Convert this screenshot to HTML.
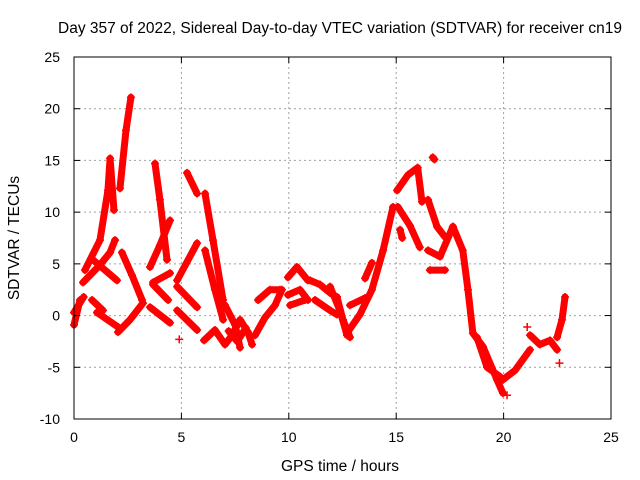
<!DOCTYPE html>
<html><head><meta charset="utf-8"><style>
body{margin:0;background:#fff;}
svg{display:block;font-family:"Liberation Sans",sans-serif;}
</style></head><body>
<svg id="chart" width="640" height="480" viewBox="0 0 640 480" xmlns="http://www.w3.org/2000/svg">
<rect width="640" height="480" fill="#fff"/>
<text x="340" y="33" font-size="15.5" text-anchor="middle">Day 357 of 2022, Sidereal Day-to-day VTEC variation (SDTVAR) for receiver cn19</text>
<g id="grid"></g>
<g id="series"></g>
<g id="axes"></g>
<text x="340" y="471" font-size="15.5" text-anchor="middle">GPS time / hours</text>
<text transform="translate(19,238) rotate(-90)" font-size="15.5" text-anchor="middle">SDTVAR / TECUs</text>
</svg>
<script>
const xTicks=[0,5,10,15,20,25];
const yTicks=[-10,-5,0,5,10,15,20,25];
const seriesSegments=[
[[0,-0.9],[0.28,1.5]],
[[0,0.3],[0.45,1.8]],
[[0.42,3.2],[1.21,4.9],[1.68,6.1],[1.91,7.3]],
[[0.51,4.4],[1.21,7.3],[1.58,12.1],[1.68,15.2],[1.86,10.2]],
[[2.14,12.3],[2.42,17.9],[2.65,21.1]],
[[0.88,5.4],[2.0,3.4]],
[[2.23,6.1],[2.7,3.9],[3.17,1.5]],
[[0.84,1.5],[1.35,0.5]],
[[1.07,0.3],[2.05,-1.1]],
[[2.05,-1.6],[2.61,-0.4],[3.21,1.2]],
[[3.77,14.7],[4.0,11.2],[4.33,5.4]],
[[3.54,4.7],[4.0,6.8],[4.47,9.2]],
[[3.54,0.8],[4.47,-0.7]],
[[3.68,3.2],[4.47,4.1]],
[[3.68,3.0],[4.38,1.5]],
[[5.26,13.8],[5.73,11.8]],
[[4.8,3.4],[5.73,7.0]],
[[4.8,2.8],[5.73,0.8]],
[[4.8,0.5],[5.73,-1.4]],
[[4.9,-2.3]],
[[6.1,11.8],[6.47,7.3],[6.94,1.5]],
[[6.1,6.3],[6.56,2.5],[6.94,-0.4]],
[[6.05,-2.4],[6.56,-1.4],[7.03,-2.8],[7.36,-1.9],[7.73,-0.4],[8.1,-1.6],[8.29,-2.8]],
[[7.03,1.0],[7.5,-0.9],[7.73,-3.1]],
[[7.2,-1.5],[7.6,-2.5],[8.0,-1.2]],
[[8.43,-1.9],[8.89,-0.2],[9.36,1.0],[9.68,2.5]],
[[8.57,1.5],[9.12,2.5],[9.59,2.5]],
[[9.96,3.7],[10.38,4.7],[10.89,3.4]],
[[9.96,2.0],[10.52,2.5],[10.89,1.5]],
[[10.06,1.0],[10.75,1.5]],
[[10.99,3.4],[11.45,3.0],[11.92,2.2],[12.24,1.8]],
[[11.22,1.5],[11.92,0.5],[12.24,0.1]],
[[12.24,1.8],[12.52,-0.4],[12.85,-2.1]],
[[11.92,2.8],[12.38,0.5],[12.71,-1.9]],
[[12.71,-1.7],[13.31,0.1],[13.87,2.5],[14.39,6.3],[14.85,10.5]],
[[12.85,1.0],[13.55,1.7]],
[[13.55,3.6],[13.87,5.1]],
[[15.04,12.1],[15.55,13.6],[16.0,14.3],[16.2,11.0]],
[[16.7,15.3],[16.78,15.1]],
[[15.08,10.5],[15.64,8.7],[16.1,6.6]],
[[15.18,8.3],[15.28,7.5]],
[[16.48,11.2],[16.9,8.6],[17.27,7.6]],
[[16.48,6.3],[17.04,5.7],[17.64,8.6]],
[[16.57,4.4],[17.27,4.4]],
[[17.64,8.6],[18.1,6.3],[18.34,2.5],[18.57,-1.7],[19.04,-3.0],[19.69,-6.2],[19.97,-7.5]],
[[18.76,-2.1],[19.23,-5.0],[19.83,-5.9]],
[[19.97,-6.2],[20.53,-5.3],[21.23,-3.3]],
[[20.16,-7.7]],
[[21.1,-1.1]],
[[21.23,-1.9],[21.69,-2.8],[22.16,-2.4],[22.49,-3.3]],
[[22.49,-2.1],[22.72,-0.4],[22.86,1.8]],
[[22.6,-4.6]]
];
const NS="http://www.w3.org/2000/svg";
const L=74,R=611,T=57,B=419;
function xs(t){return L+(t-0)/25*(R-L);}
function ys(v){return B-(v+10)/35*(B-T);}
function mk(tag,attrs,parent){const e=document.createElementNS(NS,tag);for(const k in attrs)e.setAttribute(k,attrs[k]);parent.appendChild(e);return e;}
const grid=document.getElementById('grid'),axes=document.getElementById('axes'),ser=document.getElementById('series');
xTicks.forEach(t=>{const x=xs(t);
 if(t>0&&t<25){const g=mk('line',{x1:x,x2:x,y1:T,y2:B,stroke:'#a0a0a0','stroke-dasharray':'2,3'},grid);
 
 }
 mk('line',{x1:x,x2:x,y1:B,y2:B-6,stroke:'#000'},axes);mk('line',{x1:x,x2:x,y1:T,y2:T+6,stroke:'#000'},axes);
 const tx=mk('text',{x:x,y:B+23,'font-size':14,'text-anchor':'middle'},axes);tx.textContent=t;
 
 
});
yTicks.forEach(v=>{const y=ys(v);
 if(v>-10&&v<25){const g=mk('line',{x1:L,x2:R,y1:y,y2:y,stroke:'#a0a0a0','stroke-dasharray':'2,3'},grid);
 
 }
 mk('line',{x1:L,x2:L+6,y1:y,y2:y,stroke:'#000'},axes);mk('line',{x1:R,x2:R-6,y1:y,y2:y,stroke:'#000'},axes);
 const tx=mk('text',{x:L-14,y:y+5,'font-size':14,'text-anchor':'end'},axes);tx.textContent=v;
 
 
});
const frame=mk('rect',{x:L,y:T,width:R-L,height:B-T,fill:'none',stroke:'#000','stroke-width':1},axes);


seriesSegments.forEach(seg=>{
 const pts=seg.map(p=>xs(p[0])+','+ys(p[1])).join(' ');
 const pl=mk('polyline',{points:pts,fill:'none',stroke:'#ff0000','stroke-width':7,'stroke-linecap':'round','stroke-linejoin':'round'},ser);
 
 
 seg.forEach(p=>{const x=xs(p[0]),y=ys(p[1]);
  const m=mk('path',{d:`M${x-4},${y}H${x+4}M${x},${y-4}V${y+4}`,stroke:'#ff0000','stroke-width':1.5},ser);
  
  
 });
});
</script>
</body></html>
